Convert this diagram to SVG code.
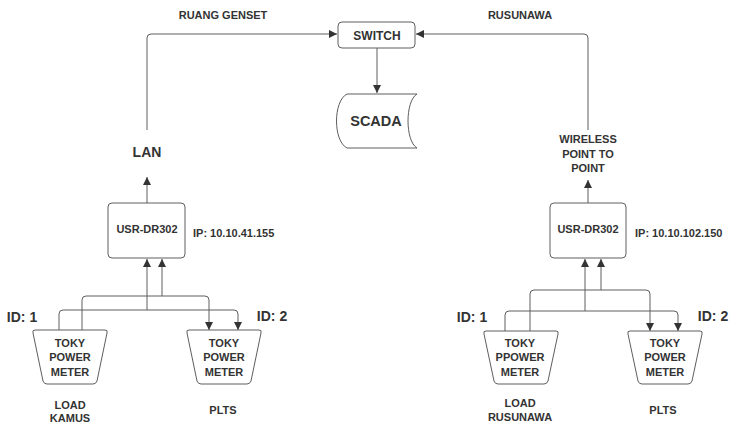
<svg xmlns="http://www.w3.org/2000/svg" width="729" height="426" viewBox="0 0 729 426">
<style>
.t{font-family:"Liberation Sans",Arial,sans-serif;font-weight:bold;fill:#333;text-anchor:middle}
.s11{font-size:11px}
.s12{font-size:12px}
.s14{font-size:14px}
.box{fill:#fff;stroke:#5e5e5e;stroke-width:1}
.ln{fill:none;stroke:#5e5e5e;stroke-width:1}
</style>
<defs>
<marker id="ah" viewBox="0 0 10 10" refX="10" refY="5" markerWidth="8" markerHeight="8" markerUnits="userSpaceOnUse" orient="auto">
<path d="M0,0 L10,5 L0,10 Z" fill="#333"/>
</marker>
</defs>
<rect width="729" height="426" fill="#fff"/>

<g id="connectors">
<path class="ln" d="M147,130 V38 Q147,34 151,34 H337" marker-end="url(#ah)"/>
<path class="ln" d="M588,130 V38 Q588,34 584,34 H416" marker-end="url(#ah)"/>
<path class="ln" d="M377,48 V93" marker-end="url(#ah)"/>
<path class="ln" d="M147,203 V177" marker-end="url(#ah)"/>
<path class="ln" d="M588,203 V180" marker-end="url(#ah)"/>
<path class="ln" d="M59,330 V314 Q59,310 63,310 H234 Q238,310 238,314 V330" marker-end="url(#ah)"/>
<path class="ln" d="M82,330 V300 Q82,296 86,296 H205 Q209,296 209,300 V330" marker-end="url(#ah)"/>
<path class="ln" d="M147,310 V259" marker-end="url(#ah)"/>
<path class="ln" d="M162,296 V259" marker-end="url(#ah)"/>
<path class="ln" d="M505,331 V315 Q505,311 509,311 H674 Q678,311 678,315 V331" marker-end="url(#ah)"/>
<path class="ln" d="M530,331 V294 Q530,290 534,290 H646 Q650,290 650,294 V331" marker-end="url(#ah)"/>
<path class="ln" d="M585,311 V259" marker-end="url(#ah)"/>
<path class="ln" d="M601,290 V259" marker-end="url(#ah)"/>
</g>

<g id="switch">
<rect class="box" x="338" y="22" width="77" height="26" rx="4"/>
<text class="t s12" x="377" y="39.5">SWITCH</text>
</g>

<g id="scada">
<path class="box" d="M347,94 H417 C405,101 405,141 417,148 H347 C333,141 333,101 347,94 Z"/>
<text class="t" style="font-size:14.5px" x="376" y="126">SCADA</text>
</g>

<g id="label-ruang">
<text class="t s11" x="223" y="19">RUANG GENSET</text>
</g>
<g id="label-rusunawa">
<text class="t s11" x="520" y="19">RUSUNAWA</text>
</g>
<g id="label-lan">
<text class="t s14" x="147" y="157">LAN</text>
</g>
<g id="label-wireless">
<text class="t s11" x="588" y="143">WIRELESS</text>
<text class="t s11" x="588" y="158">POINT TO</text>
<text class="t s11" x="588" y="172">POINT</text>
</g>

<g id="usr-left">
<rect class="box" x="108" y="203" width="77" height="55" rx="4"/>
<text class="t s11" x="147" y="233">USR-DR302</text>
</g>
<g id="ip-left">
<text class="t s11" x="193" y="237" style="text-anchor:start">IP: 10.10.41.155</text>
</g>
<g id="usr-right">
<rect class="box" x="550" y="203" width="76" height="55" rx="4"/>
<text class="t s11" x="588" y="233">USR-DR302</text>
</g>
<g id="ip-right">
<text class="t s11" x="635" y="237" style="text-anchor:start">IP: 10.10.102.150</text>
</g>

<g id="meter-l1">
<path class="box" stroke-linejoin="round" d="M35,330 H105 Q108,330 107,333 L97,381 Q96,384 93,384 H47 Q44,384 43,381 L33,333 Q32,330 35,330 Z"/>
<text class="t s11" x="70" y="347">TOKY</text>
<text class="t s11" x="70" y="361">POWER</text>
<text class="t s11" x="70" y="376">METER</text>
</g>
<g id="meter-l2">
<path class="box" stroke-linejoin="round" d="M189,330 H259 Q262,330 261,333 L251,381 Q250,384 247,384 H201 Q198,384 197,381 L187,333 Q186,330 189,330 Z"/>
<text class="t s11" x="224" y="347">TOKY</text>
<text class="t s11" x="224" y="361">POWER</text>
<text class="t s11" x="224" y="376">METER</text>
</g>
<g id="meter-r1">
<path class="box" stroke-linejoin="round" d="M486,331 H556 Q559,331 558,334 L548,381 Q547,384 544,384 H498 Q495,384 494,381 L484,334 Q483,331 486,331 Z"/>
<text class="t s11" x="520" y="347">TOKY</text>
<text class="t s11" x="520" y="361">PPOWER</text>
<text class="t s11" x="520" y="376">METER</text>
</g>
<g id="meter-r2">
<path class="box" stroke-linejoin="round" d="M630,331 H700 Q703,331 702,334 L692,381 Q691,384 688,384 H642 Q639,384 638,381 L628,334 Q627,331 630,331 Z"/>
<text class="t s11" x="665" y="347">TOKY</text>
<text class="t s11" x="665" y="361">POWER</text>
<text class="t s11" x="665" y="376">METER</text>
</g>

<g id="ids">
<text class="t s14" x="22" y="322">ID: 1</text>
<text class="t s14" x="272" y="321">ID: 2</text>
<text class="t s14" x="472" y="322">ID: 1</text>
<text class="t s14" x="713" y="321">ID: 2</text>
</g>

<g id="captions">
<text class="t s11" x="70" y="409">LOAD</text>
<text class="t s11" x="70" y="422">KAMUS</text>
<text class="t s11" x="223" y="414">PLTS</text>
<text class="t s11" x="520" y="407">LOAD</text>
<text class="t s11" x="520" y="421">RUSUNAWA</text>
<text class="t s11" x="663" y="414">PLTS</text>
</g>
</svg>
